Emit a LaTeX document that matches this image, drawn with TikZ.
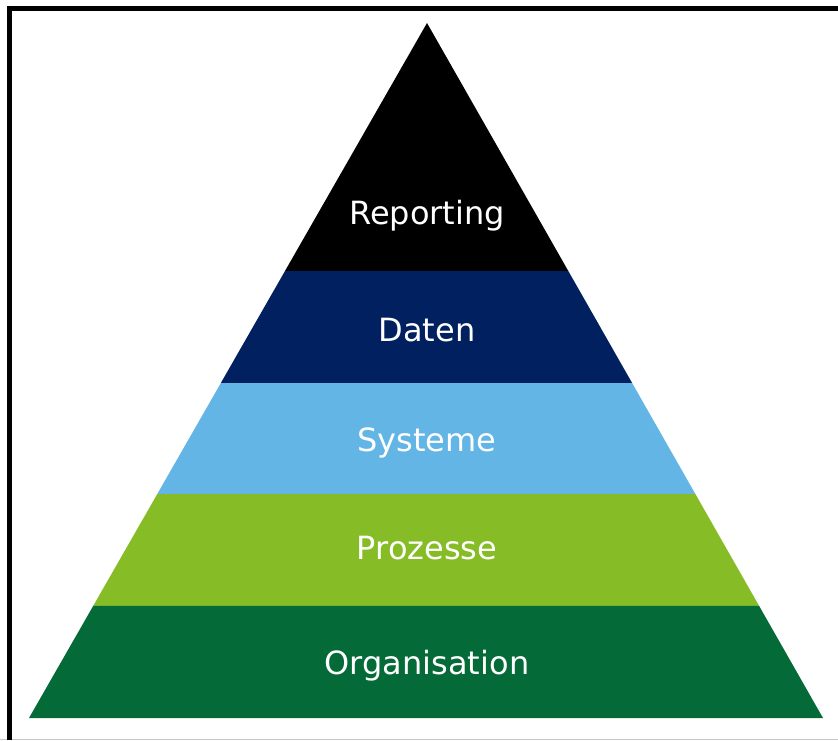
\documentclass[tikz,border=0pt]{standalone}
\usepackage{fontspec}
\setsansfont{DejaVu Sans}
\usepackage{tikz}
\usetikzlibrary{calc}
\definecolor{datenblue}{HTML}{00205F}
\definecolor{systemblue}{HTML}{62B5E5}
\definecolor{prozessgreen}{HTML}{86BC25}
\definecolor{orggreen}{HTML}{046A38}

\begin{document}
\begin{tikzpicture}[
			x=1pt,y=-1pt,
			layertext/.style={text=white,font=\sffamily\fontsize{32}{38}\selectfont},
			]
			\useasboundingbox (0,0) rectangle (838,740);
			\draw [gray!45,line width=1.2pt] (0,739.4) -- (838,739.4);
			\draw [line width=4.6pt] (9.5,740) -- (9.5,8.5) -- (838,8.5);
			\coordinate (apex) at (427,23);
			\coordinate (bl) at (29,718);
			\coordinate (br) at (823,718);
			% layers from top to bottom
			\fill [black] (apex) -- ($(apex)!0.3568!(br)$) -- ($(apex)!0.3568!(bl)$) -- cycle;
			\foreach \top/\bot/\col in {0.3568/0.5180/datenblue,0.5180/0.6777/systemblue,0.6777/0.8388/prozessgreen,0.8388/1/orggreen}
				\fill [\col] ($(apex)!\top!(bl)$) -- ($(apex)!\top!(br)$) -- ($(apex)!\bot!(br)$) -- ($(apex)!\bot!(bl)$) -- cycle;
			\node [layertext] (reporting) at (427,215.5) {Reporting};
			\node [layertext] (daten) at (427,330.5) {Daten};
			\node [layertext] (systeme) at (427,442.5) {Systeme};
			\node [layertext] (prozesse) at (427,548.5) {Prozesse};
			\node [layertext] (organisation) at (427,666) {Organisation};
		\end{tikzpicture}
\end{document}
